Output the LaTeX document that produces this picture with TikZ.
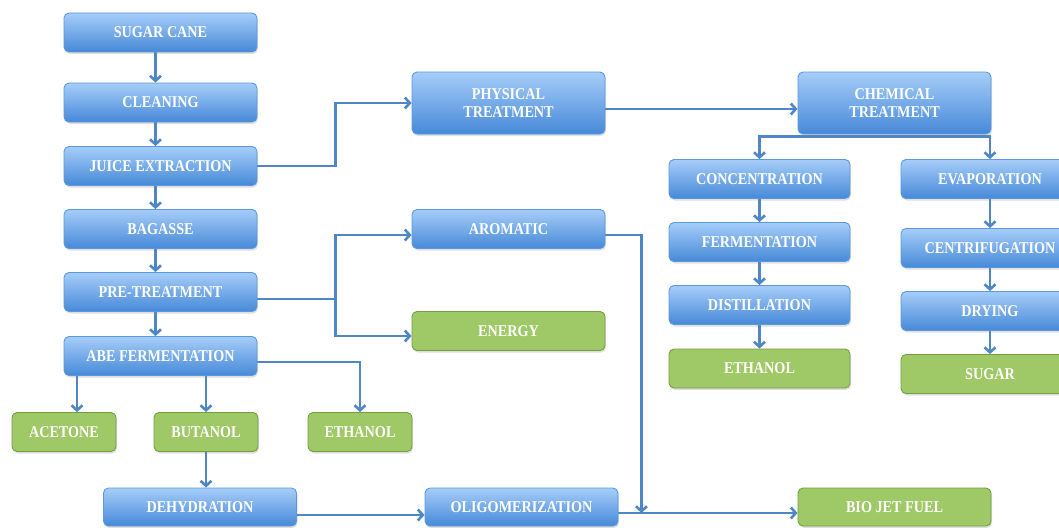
\documentclass[tikz,border=0pt]{standalone}
\usepackage{fontspec}
\setmainfont{Liberation Serif}[FakeStretch=0.86]
\usetikzlibrary{arrows.meta,shadows,backgrounds}
\definecolor{boxtop}{HTML}{A6CDF9}
\definecolor{boxbot}{HTML}{4689D8}
\definecolor{boxedge}{HTML}{5A99DF}
\definecolor{greenfill}{HTML}{9FC866}
\definecolor{greenedge}{HTML}{72A040}
\definecolor{flowcol}{HTML}{4F87C6}

\begin{document}
\begin{tikzpicture}[x=1pt,y=-1pt,
    stagebox/.style={rounded corners=5pt,line width=0.9pt,text=white,
      font=\bfseries\fontsize{16.5}{18}\selectfont,align=center,inner sep=0pt,
      minimum width=193pt,minimum height=39pt,
      drop shadow={shadow xshift=1pt,shadow yshift=-2pt,opacity=0.25}},
    bluebox/.style={stagebox,draw=boxedge,top color=boxtop,bottom color=boxbot},
    greenbox/.style={stagebox,draw=greenedge,fill=greenfill},
    flow/.style={draw=flowcol,line width=2.6pt,-{Straight Barb[length=5pt,width=11pt]}}]
  \useasboundingbox (0,0) rectangle (1059,527);
  % left column
  \node[bluebox] (sugar) at (160.5,32.5) {SUGAR CANE};
  \node[bluebox] (clean) at (160.5,102.5) {CLEANING};
  \node[bluebox] (juice) at (160.5,166) {JUICE EXTRACTION};
  \node[bluebox] (bagasse) at (160.5,229) {BAGASSE};
  \node[bluebox] (pretreat) at (160.5,292) {PRE-TREATMENT};
  \node[bluebox] (abe) at (160.5,356) {ABE FERMENTATION};
  \node[greenbox,minimum width=104pt] (acetone) at (64,432) {ACETONE};
  \node[greenbox,minimum width=104pt] (butanol) at (206,432) {BUTANOL};
  \node[greenbox,minimum width=104pt] (ethanolA) at (360,432) {ETHANOL};
  \node[bluebox,minimum height=38pt] (dehyd) at (200,507) {DEHYDRATION};
  \node[bluebox,minimum height=38pt] (oligo) at (521.5,507) {OLIGOMERIZATION};
  \node[greenbox,minimum height=38pt] (biojet) at (894.5,507) {BIO JET FUEL};
  % middle
  \node[bluebox,minimum height=62pt] (phys) at (508.5,103) {PHYSICAL\\TREATMENT};
  \node[bluebox,minimum height=62pt] (chem) at (894.5,103) {CHEMICAL\\TREATMENT};
  \node[bluebox] (aromatic) at (508.5,229) {AROMATIC};
  \node[greenbox] (energy) at (508.5,331) {ENERGY};
  % right columns
  \node[bluebox,minimum width=181pt] (conc) at (759.5,179) {CONCENTRATION};
  \node[bluebox,minimum width=181pt] (ferm) at (759.5,242) {FERMENTATION};
  \node[bluebox,minimum width=181pt] (dist) at (759.5,305) {DISTILLATION};
  \node[greenbox,minimum width=181pt] (ethanolB) at (759.5,368.5) {ETHANOL};
  \node[bluebox,minimum width=178pt] (evap) at (990,179) {EVAPORATION};
  \node[bluebox,minimum width=178pt] (centri) at (990,248) {CENTRIFUGATION};
  \node[bluebox,minimum width=178pt] (drying) at (990,311) {DRYING};
  \node[greenbox,minimum width=178pt] (sugarB) at (990,374) {SUGAR};
  % arrows
  \begin{pgfonlayer}{background}
    \draw[flow] ([xshift=-5pt]sugar.south) -- ([xshift=-5pt]clean.north);
    \draw[flow] ([xshift=-5pt]clean.south) -- ([xshift=-5pt]juice.north);
    \draw[flow] ([xshift=-5pt]juice.south) -- ([xshift=-5pt]bagasse.north);
    \draw[flow] ([xshift=-5pt]bagasse.south) -- ([xshift=-5pt]pretreat.north);
    \draw[flow] ([xshift=-5pt]pretreat.south) -- ([xshift=-5pt]abe.north);
    \draw[flow] (juice.east) -- ++(78,0) |- (phys.west);
    \draw[flow] ([yshift=-7pt]pretreat.east) -- ++(78,0) coordinate (split)
      |- ([yshift=-6pt]aromatic.west);
    \draw[flow] (split) |- ([yshift=-5pt]energy.west);
    \draw[flow] ([xshift=13pt]acetone.north |- abe.south) -- ([xshift=13pt]acetone.north);
    \draw[flow] (butanol.north |- abe.south) -- (butanol.north);
    \draw[flow] ([yshift=-6pt]abe.east) -| (ethanolA.north);
    \draw[flow] (butanol.south) -- (butanol.south |- dehyd.north);
    \draw[flow] ([yshift=-8pt]dehyd.east) -- ([yshift=-8pt]oligo.west);
    \coordinate (jet) at ([yshift=-6pt]oligo.east);
    \draw[flow] (jet) -- ([yshift=-6pt]biojet.west);
    \draw[flow] ([yshift=-6pt]aromatic.east) -- ++(36,0) coordinate (drop) -- (drop |- jet);
    \draw[flow] ([yshift=-6pt]phys.east) -- ([yshift=-6pt]chem.west);
    \draw[flow] (chem.south) ++(0,2) -| (conc.north);
    \draw[flow] (chem.south) ++(0,2) -| (evap.north);
    \draw[flow] (conc) -- (ferm);
    \draw[flow] (ferm) -- (dist);
    \draw[flow] (dist) -- (ethanolB);
    \draw[flow] (evap) -- (centri);
    \draw[flow] (centri) -- (drying);
    \draw[flow] (drying) -- (sugarB);
  \end{pgfonlayer}
\end{tikzpicture}
\end{document}
